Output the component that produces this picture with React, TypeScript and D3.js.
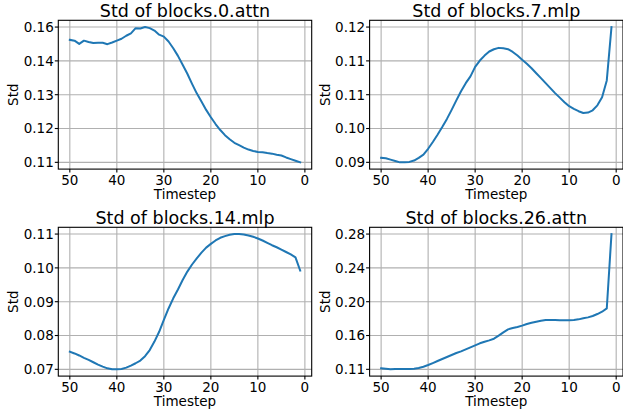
import React, { useEffect, useRef } from 'react';
import * as d3 from 'd3';

// timesteps 50 -> 1
const timesteps: number[] = d3.range(50, 0, -1);

const attn0: number[] = [
  0.1551, 0.1548, 0.1536, 0.1548, 0.1543, 0.1539, 0.154, 0.154, 0.1535, 0.1541,
  0.1548, 0.1555, 0.1566, 0.1575, 0.1594, 0.1593, 0.1598, 0.1594, 0.1585, 0.157,
  0.1563, 0.1545, 0.152, 0.1492, 0.1459, 0.1426, 0.1389, 0.1354, 0.1324, 0.1293,
  0.1266, 0.1241, 0.1219, 0.12, 0.1185, 0.1172, 0.1163, 0.1154, 0.1147, 0.1142,
  0.1138, 0.1137, 0.1134, 0.1132, 0.1128, 0.1125, 0.1118, 0.1112, 0.1106, 0.11,
];

const mlp7: number[] = [
  0.0911, 0.091, 0.0907, 0.0904, 0.0901, 0.0901, 0.0902, 0.0905, 0.0911, 0.0918,
  0.0931, 0.0946, 0.0962, 0.0979, 0.0997, 0.1017, 0.1038, 0.1058, 0.1076, 0.1091,
  0.1112, 0.1126, 0.1137, 0.1146, 0.1151, 0.1154, 0.1153, 0.1151, 0.1145, 0.1137,
  0.1128, 0.1119, 0.1109, 0.1098, 0.1087, 0.1076, 0.1065, 0.1054, 0.1044, 0.1034,
  0.1025, 0.1019, 0.1014, 0.101, 0.1011, 0.1016, 0.1027, 0.1045, 0.1082, 0.12,
];

const mlp14: number[] = [
  0.0752, 0.0747, 0.0741, 0.0734, 0.0728, 0.0721, 0.0714, 0.0708, 0.0703, 0.07,
  0.07, 0.0701, 0.0705, 0.0711, 0.0718, 0.0726, 0.0739, 0.0757, 0.0782, 0.0811,
  0.0846, 0.088, 0.091, 0.0936, 0.0964, 0.0989, 0.101, 0.1028, 0.1045, 0.106,
  0.1071, 0.1081, 0.1089, 0.1094, 0.1098, 0.11, 0.11, 0.1099, 0.1096, 0.1092,
  0.1087, 0.1081, 0.1074, 0.1067, 0.1061, 0.1054, 0.1047, 0.104, 0.1031, 0.0992,
];

const attn26: number[] = [
  0.1113, 0.1108, 0.11, 0.1104, 0.1104, 0.1104, 0.1104, 0.1108, 0.1117, 0.1133,
  0.1154, 0.1179, 0.1205, 0.123, 0.1255, 0.128, 0.1305, 0.1326, 0.1351, 0.1376,
  0.1401, 0.1427, 0.1447, 0.1464, 0.1485, 0.1523, 0.1565, 0.1602, 0.1619, 0.1632,
  0.1649, 0.167, 0.1686, 0.1699, 0.1711, 0.172, 0.172, 0.172, 0.1716, 0.1716,
  0.1716, 0.172, 0.1728, 0.1741, 0.1753, 0.177, 0.1795, 0.1824, 0.1866, 0.28,
];

const xTicks: number[] = [50, 40, 30, 20, 10, 0];

// tick labels as printed on the y axes (5 evenly spaced ticks from min to max)
const attn0Labels: string[] = ['0.11', '0.12', '0.13', '0.14', '0.16'];
const mlp7Labels: string[] = ['0.09', '0.10', '0.11', '0.11', '0.12'];
const mlp14Labels: string[] = ['0.07', '0.08', '0.09', '0.10', '0.11'];
const attn26Labels: string[] = ['0.11', '0.16', '0.20', '0.24', '0.28'];

const titles: string[] = ['Std of blocks.0.attn', 'Std of blocks.7.mlp', 'Std of blocks.14.mlp', 'Std of blocks.26.attn'];

const W = 623, H = 413;
const FONT = 'DejaVu Sans, sans-serif';

const App = () => {
  const d3svg = useRef<SVGSVGElement>(null);

  useEffect(() => {
    if (!d3svg.current) return;
    const svg = d3.select(d3svg.current);
    svg.selectAll('*').remove();

    const panels = [
      { values: attn0, labels: attn0Labels, left: 58.3, top: 20.3 },
      { values: mlp7, labels: mlp7Labels, left: 369.6, top: 20.3 },
      { values: mlp14, labels: mlp14Labels, left: 58.3, top: 227.3 },
      { values: attn26, labels: attn26Labels, left: 369.6, top: 227.3 },
    ];
    const pw = 253.4, ph = 148.8;

    panels.forEach((p, i) => {
      const g = svg.append('g').attr('transform', `translate(${p.left},${p.top})`);

      // matplotlib style 5% margins
      const xMin = d3.min(timesteps)!, xMax = d3.max(timesteps)!;
      const xPad = (xMax - xMin) * 0.05;
      const x = d3.scaleLinear().domain([xMax + xPad, xMin - xPad]).range([0, pw]);

      const yMin = d3.min(p.values)!, yMax = d3.max(p.values)!;
      const yPad = (yMax - yMin) * 0.05;
      const y = d3.scaleLinear().domain([yMin - yPad, yMax + yPad]).range([ph, 0]);
      const yTicks = p.labels.map((_, k) => yMin + (yMax - yMin) * k / (p.labels.length - 1));

      // grid
      g.selectAll('.gx').data(xTicks).enter().append('line')
        .attr('x1', d => x(d)).attr('x2', d => x(d))
        .attr('y1', 0).attr('y2', ph)
        .attr('stroke', '#b0b0b0').attr('stroke-width', 1.1);
      g.selectAll('.gy').data(yTicks).enter().append('line')
        .attr('x1', 0).attr('x2', pw)
        .attr('y1', d => y(d)).attr('y2', d => y(d))
        .attr('stroke', '#b0b0b0').attr('stroke-width', 1.1);

      // line
      const line = d3.line<number>()
        .x((_, k) => x(timesteps[k]))
        .y(d => y(d));
      g.append('path')
        .datum(p.values)
        .attr('fill', 'none')
        .attr('stroke', '#1f77b4')
        .attr('stroke-width', 2)
        .attr('stroke-linejoin', 'round')
        .attr('stroke-linecap', 'square')
        .attr('d', line);

      // spines
      g.append('rect')
        .attr('x', 0).attr('y', 0).attr('width', pw).attr('height', ph)
        .attr('fill', 'none').attr('stroke', '#000').attr('stroke-width', 1.1);

      // x ticks
      g.selectAll('.tx').data(xTicks).enter().append('line')
        .attr('x1', d => x(d)).attr('x2', d => x(d))
        .attr('y1', ph).attr('y2', ph + 3.5)
        .attr('stroke', '#000').attr('stroke-width', 1.1);
      g.selectAll('.lx').data(xTicks).enter().append('text')
        .attr('x', d => x(d)).attr('y', ph + 15.5)
        .attr('text-anchor', 'middle')
        .attr('font-family', FONT).attr('font-size', '13.5px').attr('fill', '#000')
        .text(d => d);

      // y ticks
      g.selectAll('.ty').data(yTicks).enter().append('line')
        .attr('x1', -3.5).attr('x2', 0)
        .attr('y1', d => y(d)).attr('y2', d => y(d))
        .attr('stroke', '#000').attr('stroke-width', 1.1);
      g.selectAll('.ly').data(yTicks).enter().append('text')
        .attr('x', -4.5).attr('y', d => y(d))
        .attr('dy', '0.36em')
        .attr('text-anchor', 'end')
        .attr('font-family', FONT).attr('font-size', '13.5px').attr('fill', '#000')
        .text((_, k) => p.labels[k]);

      // labels
      g.append('text')
        .attr('x', pw / 2).attr('y', ph + 30)
        .attr('text-anchor', 'middle')
        .attr('font-family', FONT).attr('font-size', '13.5px').attr('fill', '#000')
        .text('Timestep');
      g.append('text')
        .attr('transform', `translate(-40,${ph / 2}) rotate(-90)`)
        .attr('text-anchor', 'middle')
        .attr('font-family', FONT).attr('font-size', '13.5px').attr('fill', '#000')
        .text('Std');
      g.append('text')
        .attr('x', pw / 2).attr('y', -3.8)
        .attr('text-anchor', 'middle')
        .attr('font-family', FONT).attr('font-size', '17.5px').attr('fill', '#000')
        .text(titles[i]);
    });
  }, []);

  return (
    <div style={{ position: 'absolute', left: 0, top: 0 }}>
      <svg width={W} height={H} ref={d3svg} style={{ display: 'block', background: '#fff' }}></svg>
    </div>
  );
};

export default App;
